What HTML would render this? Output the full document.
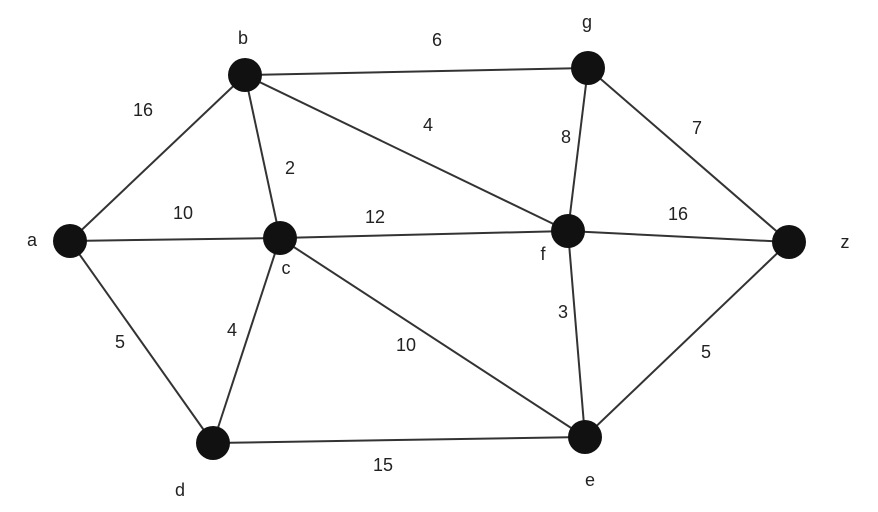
<!DOCTYPE html>
<html><head><style>html,body{margin:0;padding:0;background:#fff}svg{display:block}</style></head>
<body>
<svg width="878" height="512" xmlns="http://www.w3.org/2000/svg" font-family="Liberation Sans, sans-serif" font-size="18" fill="#222">
<g stroke="#333" stroke-width="2">
<line x1="70" y1="241" x2="245" y2="75"/>
<line x1="70" y1="241" x2="280" y2="238"/>
<line x1="70" y1="241" x2="213" y2="443"/>
<line x1="245" y1="75" x2="588" y2="68"/>
<line x1="245" y1="75" x2="568" y2="231"/>
<line x1="245" y1="75" x2="280" y2="238"/>
<line x1="280" y1="238" x2="568" y2="231"/>
<line x1="280" y1="238" x2="213" y2="443"/>
<line x1="280" y1="238" x2="585" y2="437"/>
<line x1="213" y1="443" x2="585" y2="437"/>
<line x1="588" y1="68" x2="568" y2="231"/>
<line x1="588" y1="68" x2="789" y2="242"/>
<line x1="568" y1="231" x2="789" y2="242"/>
<line x1="568" y1="231" x2="585" y2="437"/>
<line x1="585" y1="437" x2="789" y2="242"/>
</g>
<g fill="#111">
<circle cx="70" cy="241" r="17"/><circle cx="245" cy="75" r="17"/><circle cx="280" cy="238" r="17"/>
<circle cx="213" cy="443" r="17"/><circle cx="585" cy="437" r="17"/><circle cx="568" cy="231" r="17"/>
<circle cx="588" cy="68" r="17"/><circle cx="789" cy="242" r="17"/>
</g>
<g text-anchor="middle" dominant-baseline="central">
<text x="243" y="38">b</text><text x="587" y="22">g</text><text x="32" y="240">a</text>
<text x="845" y="242">z</text><text x="286" y="268">c</text><text x="543" y="254">f</text>
<text x="180" y="490">d</text><text x="590" y="480">e</text>
<text x="143" y="110">16</text><text x="437" y="40">6</text><text x="428" y="125">4</text>
<text x="290" y="168">2</text><text x="566" y="137">8</text><text x="697" y="128">7</text>
<text x="183" y="213">10</text><text x="375" y="217">12</text><text x="678" y="214">16</text>
<text x="120" y="342">5</text><text x="232" y="330">4</text><text x="406" y="345">10</text>
<text x="563" y="312">3</text><text x="706" y="352">5</text><text x="383" y="465">15</text>
</g>
</svg>
</body></html>
